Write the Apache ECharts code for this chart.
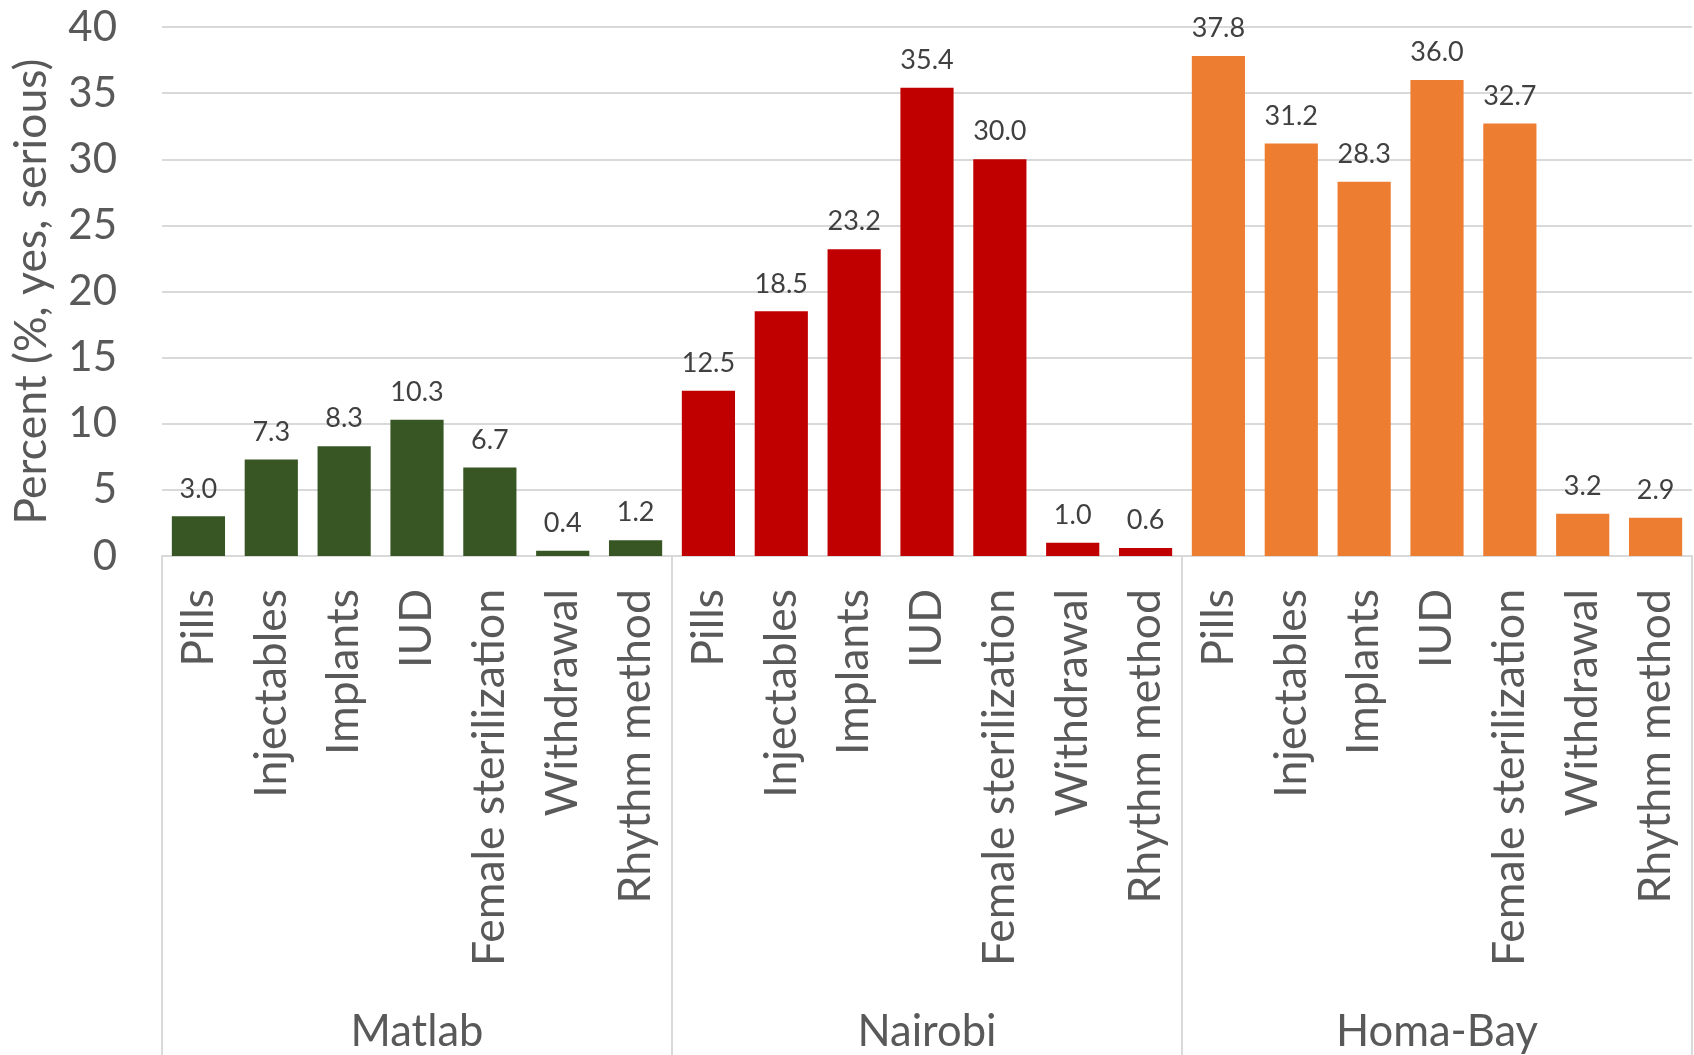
<!DOCTYPE html>
<html>
<head>
<meta charset="utf-8">
<script src="https://cdn.jsdelivr.net/npm/echarts@6/dist/echarts.min.js"></script>
<style>
html,body{margin:0;padding:0;background:#fff;}
#chart{width:1694px;height:1055px;}
</style>
</head>
<body>
<div id="chart"></div>
<script>
const categories = ['Pills','Injectables','Implants','IUD','Female sterilization','Withdrawal','Rhythm method'];
const groups = ['Matlab','Nairobi','Homa-Bay'];
const matlab = [3.0, 7.3, 8.3, 10.3, 6.7, 0.4, 1.2];
const nairobi = [12.5, 18.5, 23.2, 35.4, 30.0, 1.0, 0.6];
const homaBay = [37.8, 31.2, 28.3, 36.0, 32.7, 3.2, 2.9];
const groupColors = ['#375623', '#c00000', '#ed7d31'];
const yName = 'Percent (%, yes, serious)';

const allValues = [matlab, nairobi, homaBay];
const xCats = [];
const barData = [];
allValues.forEach((vals, g) => {
  vals.forEach((v, i) => {
    xCats.push(categories[i]);
    barData.push({ value: v, itemStyle: { color: groupColors[g] } });
  });
});

const FONT = 'Lato, "Open Sans", sans-serif';
const chart = echarts.init(document.getElementById('chart'));
chart.setOption({
  animation: false,
  backgroundColor: '#ffffff',
  grid: { left: 162, right: 2, top: 27, bottom: 499, containLabel: false },
  xAxis: [
    {
      type: 'category',
      data: xCats,
      position: 'bottom',
      axisLine: { show: true, lineStyle: { color: '#d9d9d9', width: 2 } },
      axisTick: { show: false },
      axisLabel: {
        interval: 0, rotate: 90, margin: 33,
        fontFamily: FONT, fontSize: 44.5, color: '#595959'
      }
    },
    {
      type: 'category',
      data: groups,
      position: 'bottom',
      boundaryGap: true,
      axisLine: { show: false },
      axisTick: { show: true, length: 499, lineStyle: { color: '#d9d9d9', width: 2 } },
      axisLabel: {
        interval: 0, margin: 454,
        fontFamily: FONT, fontSize: 43.5, color: '#595959'
      },
      splitLine: { show: false }
    }
  ],
  yAxis: {
    type: 'value',
    min: 0, max: 40, interval: 5,
    name: yName,
    nameLocation: 'middle',
    nameGap: 108,
    nameTextStyle: { fontFamily: FONT, fontSize: 44.5, color: '#595959' },
    axisLine: { show: false },
    axisTick: { show: false },
    axisLabel: { margin: 45, fontFamily: FONT, fontSize: 42, color: '#595959' },
    splitLine: { show: true, lineStyle: { color: '#d9d9d9', width: 2 } }
  },
  series: [{
    type: 'bar',
    xAxisIndex: 0,
    data: barData,
    barCategoryGap: '27%',
    label: {
      show: true, position: 'top', distance: 14,
      fontFamily: FONT, fontSize: 27, color: '#404040',
      formatter: p => p.value.toFixed(1)
    }
  }]
});
</script>
</body>
</html>
